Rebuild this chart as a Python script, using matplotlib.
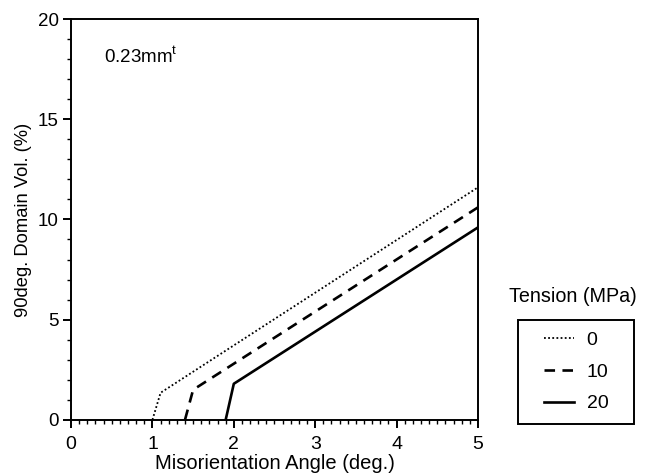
import numpy as np
import matplotlib.pyplot as plt
from matplotlib.ticker import MultipleLocator
from matplotlib.patches import Rectangle

plt.rcParams['font.family'] = ['Liberation Sans', 'DejaVu Sans']

# tension 0, 10, 20 MPa
tension = ['0', '10', '20']
x_t0 = [1.0, 1.1, 5.0]
y_t0 = [0.0, 1.35, 11.6]
x_t10 = [1.4, 1.5, 5.0]
y_t10 = [0.0, 1.5, 10.6]
x_t20 = [1.9, 2.0, 5.0]
y_t20 = [0.0, 1.8, 9.6]

fig = plt.figure(figsize=(6.52, 4.76), dpi=100)
ax = fig.add_axes([0.109, 0.118, 0.624, 0.842])

l0, = ax.plot(x_t0, y_t0, color='black', lw=1.3, linestyle=(0, (1, 1.3)))
l1, = ax.plot(x_t10, y_t10, color='black', lw=1.9, linestyle=(0, (4, 2.8)))
l2, = ax.plot(x_t20, y_t20, color='black', lw=1.9, linestyle='-')

ax.set_xlim(0, 5)
ax.set_ylim(0, 20)
ax.xaxis.set_major_locator(MultipleLocator(1))
ax.xaxis.set_minor_locator(MultipleLocator(0.1))
ax.yaxis.set_major_locator(MultipleLocator(5))
ax.yaxis.set_minor_locator(MultipleLocator(1))
ax.tick_params(which='major', length=6, width=1.4)
ax.tick_params(which='minor', length=3, width=1)
ax.tick_params(axis='x', which='major', labelsize=14, pad=5.5)
ax.tick_params(axis='y', which='major', labelsize=13.5, pad=3)
for s in ax.spines.values():
    s.set_linewidth(1.4)

ax.set_xlabel('Misorientation Angle (deg.)', fontsize=14.5, labelpad=1)
ax.set_ylabel('90deg. Domain Vol. (%)', fontsize=13.2, labelpad=4)

ax.text(0.08, 0.905, r'0.23mm$^\mathregular{t}$', transform=ax.transAxes,
        fontsize=13.5, va='center')

leg = fig.legend([l0, l1, l2], tension, loc='center',
                 bbox_to_anchor=(576 / 652, 1 - 372 / 476), fontsize=14,
                 frameon=False, handlelength=1.55, labelspacing=0.72,
                 handletextpad=0.65, borderpad=0, borderaxespad=0)
# legend box drawn separately so the padding matches
fig.add_artist(Rectangle((518 / 652, 1 - 424 / 476), 116 / 652, 104 / 476,
                         transform=fig.transFigure, fill=False,
                         edgecolor='black', lw=1.4))
fig.text(573 / 652, 1 - 297 / 476, 'Tension (MPa)', fontsize=14.2,
         ha='center', va='center')

fig.savefig('out.png', dpi=100)
